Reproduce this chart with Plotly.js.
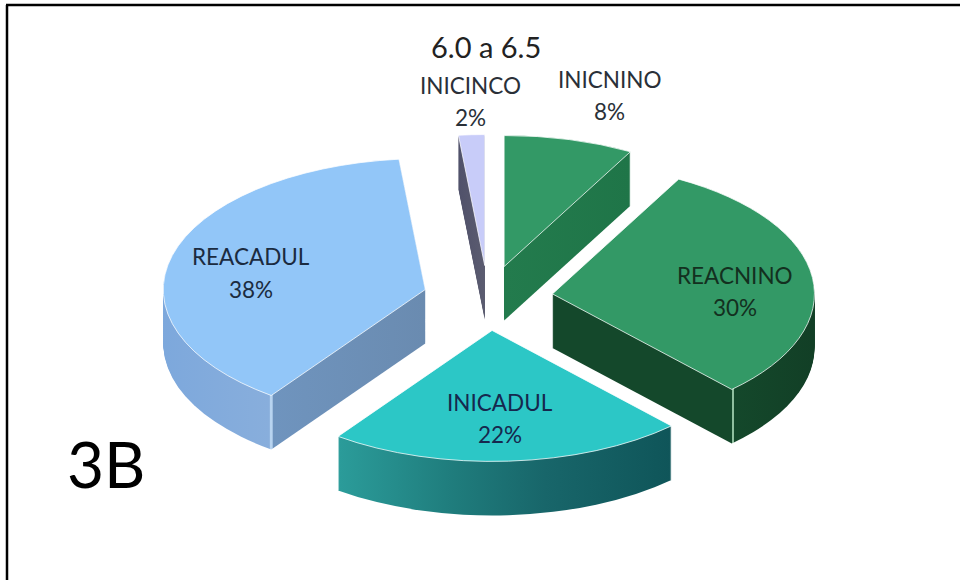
<!DOCTYPE html>
<html>
<head>
<meta charset="utf-8">
<script src="https://cdn.plot.ly/plotly-3.0.1.min.js"></script>
<style>html,body{margin:0;padding:0;background:#fff}#chart{width:960px;height:580px}</style>
</head>
<body>
<div id="chart"></div>
<script>
var categories = ['INICNINO', 'REACNINO', 'INICADUL', 'REACADUL', 'INICINCO'];
var values = [8, 30, 22, 38.4, 1.6];
var percentLabels = ['8%', '30%', '22%', '38%', '2%'];
var topColors = ['#339966', '#339966', '#2CC7C6', '#92C6F8', '#C8CCF9'];
var sideColors = ['#237B4D', '#14472A', '#1F7F80', '#7BA5D4', '#55566C'];
var pullFraction = [0.248, 0.248, 0.248, 0.248, 0.248];
var sideStops = [
  [[0, '#237B4D'], [1, '#1F7548']],
  [[0, '#14482B'], [0.684, '#14482B'], [0.685, '#8FBF9F'], [0.692, '#8FBF9F'], [0.693, '#14482B'], [1, '#123F26']],
  [[0, '#2B9C9A'], [0.35, '#1F7C7C'], [0.62, '#18666A'], [1, '#0F5559']],
  [[0, '#7DA8DC'], [0.405, '#88AEDC'], [0.408, '#B8D4F0'], [0.416, '#B8D4F0'], [0.419, '#6F94BE'], [1, '#6A8BB0']],
  [[0, '#50516A'], [1, '#5B5C70']]
];
var labelX = [609, 735, 500, 251, 470];
var labelY = [79, 275, 402, 257, 86];
var labelGap = 32;
var labelColors = ['#2A3038', '#13301F', '#16284E', '#1B2B40', '#2A3038'];
var headingText = '6.0 a 6.5';
var panelText = '3B';
var pieCenter = {x: 488, y: 298};
var pieRadius = {x: 262, y: 131};
var depth = 54;

var traces = [];
for (var d = depth; d >= 0; d--) {
  traces.push({
    type: 'pie', values: values, labels: categories, sort: false,
    direction: 'clockwise', rotation: 0, pull: pullFraction,
    textinfo: 'none', hoverinfo: 'skip', showlegend: false,
    marker: {
      colors: d === 0 ? topColors : sideColors,
      line: d === 0 ? {color: 'rgba(255,255,255,0.75)', width: 1} : {width: 0}
    }
  });
}

var font = 'Lato, "Open Sans", sans-serif';
function note(x, y, text, size, color) {
  return {xref: 'paper', yref: 'paper', x: x / 960, y: 1 - y / 580, text: text,
    showarrow: false, xanchor: 'center', yanchor: 'middle',
    font: {family: font, size: size, color: color}};
}
var annotations = [];
categories.forEach(function (c, i) {
  annotations.push(note(labelX[i], labelY[i], c, 22.5, labelColors[i]));
  annotations.push(note(labelX[i], labelY[i] + labelGap, percentLabels[i], 22.5, labelColors[i]));
});
annotations.push(note(486, 46, headingText, 29, '#222222'));
annotations.push(note(106, 463, panelText, 64, '#000000'));

var layout = {
  width: 960, height: 580, margin: {l: 0, r: 0, t: 0, b: 0},
  paper_bgcolor: '#ffffff', plot_bgcolor: '#ffffff', showlegend: false,
  annotations: annotations,
  shapes: [
    {type: 'line', xref: 'paper', yref: 'paper', x0: 6 / 960, x1: 1, y0: 1 - 5 / 580, y1: 1 - 5 / 580, line: {color: '#000', width: 2.5}},
    {type: 'line', xref: 'paper', yref: 'paper', x0: 7 / 960, x1: 7 / 960, y0: 0, y1: 1 - 5 / 580, line: {color: '#000', width: 2.5}}
  ]
};

var gd = document.getElementById('chart');
Plotly.newPlot(gd, traces, layout, {displayModeBar: false, staticPlot: true}).then(function () {
  var NS = 'http://www.w3.org/2000/svg';
  var svg = gd.querySelector('svg.main-svg');
  var defs = document.createElementNS(NS, 'defs');
  sideStops.forEach(function (stops, i) {
    var g = document.createElementNS(NS, 'linearGradient');
    g.setAttribute('id', 'side' + i);
    g.setAttribute('x1', '0'); g.setAttribute('x2', '1');
    g.setAttribute('y1', '0'); g.setAttribute('y2', '0');
    stops.forEach(function (s) {
      var st = document.createElementNS(NS, 'stop');
      st.setAttribute('offset', s[0]);
      st.setAttribute('stop-color', s[1]);
      g.appendChild(st);
    });
    defs.appendChild(g);
  });
  svg.insertBefore(defs, svg.firstChild);

  var cd = gd.calcdata[0][0];
  var r = cd.r, cx = cd.cx, cy = cd.cy;
  var sx = pieRadius.x / r, sy = pieRadius.y / r;
  var groups = gd.querySelectorAll('.pielayer .trace');
  groups.forEach(function (g, idx) {
    var dy = depth - idx;
    g.setAttribute('transform',
      'translate(' + pieCenter.x + ',' + (pieCenter.y + dy) + ') scale(' + sx + ',' + sy + ') translate(' + (-cx) + ',' + (-cy) + ')');
    g.querySelectorAll('path.surface').forEach(function (p, i) {
      if (dy > 0) {
        p.style.fill = 'url(#side' + i + ')';
        p.style.strokeWidth = '0';
      } else {
        p.style.vectorEffect = 'non-scaling-stroke';
      }
    });
  });
});
</script>
</body>
</html>
